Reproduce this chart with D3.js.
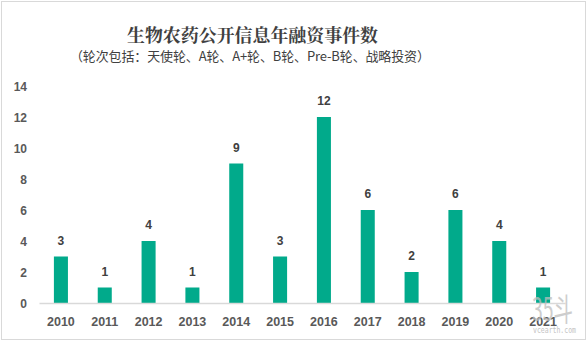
<!DOCTYPE html>
<html><head><meta charset="utf-8">
<script src="https://cdn.jsdelivr.net/npm/d3@7/dist/d3.min.js"></script>
<style>body{margin:0;background:#fff}svg{display:block}</style>
</head><body>
<script>
const years = ["2010","2011","2012","2013","2014","2015","2016","2017","2018","2019","2020","2021"];
const counts = [3,1,4,1,9,3,12,6,2,6,4,1];
const yTicks = [0,2,4,6,8,10,12,14];
const title = "生物农药公开信息年融资事件数";
const subtitle = "（轮次包括：天使轮、A轮、A+轮、B轮、Pre-B轮、战略投资）";

const W = 587, H = 341;
const svg = d3.select("body").append("svg").attr("width", W).attr("height", H);
svg.append("rect").attr("x",1.5).attr("y",1.5).attr("width",W-3).attr("height",H-3)
  .attr("fill","#fff").attr("stroke","#d9d9d9");

const x = d3.scaleBand().domain(years).range([39, 565]).paddingInner(0.68).paddingOuter(0.34);
const y = d3.scaleLinear().domain([0,14]).range([303, 86]);

svg.append("text").attr("x", 127).attr("y", 42)
  .attr("textLength",251).attr("lengthAdjust","spacingAndGlyphs")
  .attr("font-family","'Noto Serif CJK SC','Noto Sans CJK SC'").attr("font-weight","bold").attr("font-size",18)
  .attr("fill","#404040").text(title);
svg.append("text").attr("x", 70).attr("y", 61)
  .attr("textLength",360).attr("lengthAdjust","spacing")
  .attr("font-family","'Noto Sans CJK SC'").attr("font-size",13)
  .attr("fill","#404040").text(subtitle);

// y axis labels
const yAxis = d3.axisLeft(y).tickValues(yTicks).tickSize(0).tickPadding(0);
const ya = svg.append("g").attr("transform","translate(27,0)").call(yAxis);
ya.select(".domain").remove();
ya.selectAll("text").attr("font-family","'Liberation Sans', Arial").attr("font-weight","bold")
  .attr("font-size",12).attr("fill","#595959").attr("dy","0.35em");

// bars
svg.selectAll("rect.bar").data(counts).join("rect").attr("class","bar")
  .attr("x",(d,i)=>x(years[i])).attr("width",x.bandwidth())
  .attr("y",d=>y(d)).attr("height",d=>y(0)-y(d)).attr("fill","#01aa8b");

// baseline + x labels
const xAxis = d3.axisBottom(x).tickSize(0).tickPadding(14);
const xa = svg.append("g").attr("transform",`translate(0,${y(0)})`).call(xAxis);
xa.select(".domain").attr("stroke","#d9d9d9").attr("stroke-width",1.3);
xa.selectAll("text").attr("font-family","'Liberation Sans', Arial").attr("font-weight","bold")
  .attr("font-size",12.5).attr("fill","#595959");

// value labels
svg.selectAll("text.val").data(counts).join("text").attr("class","val")
  .attr("x",(d,i)=>x(years[i])+x.bandwidth()/2).attr("y",d=>y(d)-12)
  .attr("text-anchor","middle").attr("font-family","'Liberation Sans', Arial")
  .attr("font-weight","bold").attr("font-size",12).attr("fill","#404040").text(d=>d);

// watermark
svg.append("text").attr("x",532).attr("y",321)
  .attr("textLength",41).attr("lengthAdjust","spacingAndGlyphs")
  .attr("font-family","'Noto Sans CJK SC'").attr("font-size",32).attr("fill","#bdbdbd").attr("opacity",0.75).text("35斗");
svg.append("text").attr("x",533).attr("y",333)
  .attr("textLength",43).attr("lengthAdjust","spacingAndGlyphs")
  .attr("font-family","'DejaVu Sans Mono'").attr("font-size",8).attr("fill","#c4c4c4").text("vcearth.com");
</script>
</body></html>
